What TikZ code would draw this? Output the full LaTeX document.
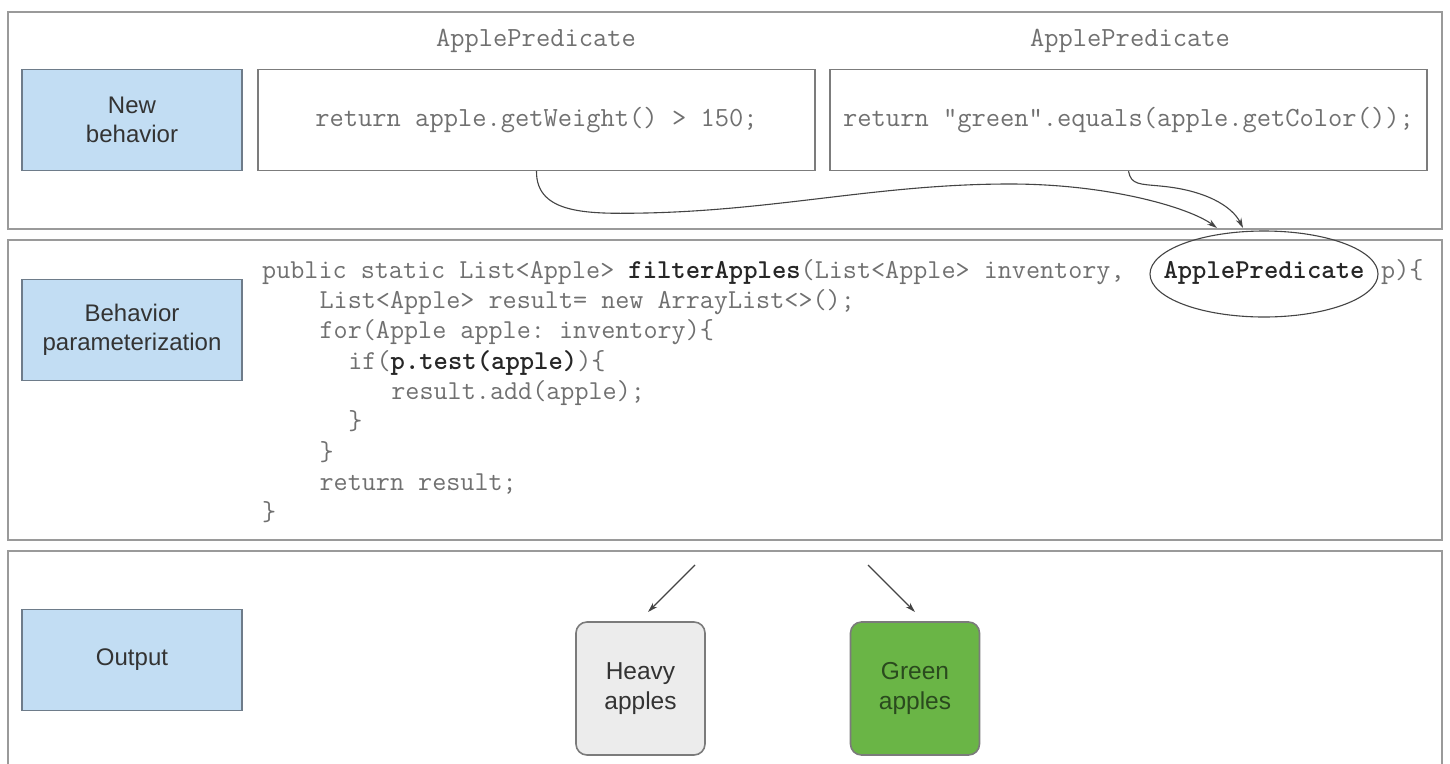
\documentclass[tikz,border=0pt]{standalone}
\usepackage{fontspec}
\setmainfont{Liberation Sans}
\usetikzlibrary{shapes.geometric,arrows.meta}
\definecolor{panelborder}{HTML}{9A9A9A}
\definecolor{bluefill}{HTML}{C2DDF3}
\definecolor{blueborder}{HTML}{6E7C8A}
\definecolor{codegray}{HTML}{707070}
\definecolor{codedark}{HTML}{262626}
\definecolor{labeltext}{HTML}{333333}
\definecolor{heavyfill}{HTML}{ECECEC}
\definecolor{greenfill}{HTML}{6AB546}
\definecolor{greentext}{HTML}{2A4A1E}
\definecolor{linecol}{HTML}{444444}
\begin{document}
\frenchspacing
\begin{tikzpicture}[x=1pt,y=-1pt,
  panel/.style={draw=panelborder,line width=2pt,fill=white},
  bluebox/.style={draw=blueborder,line width=1.6pt,fill=bluefill,minimum width=220pt,minimum height=101pt,
    align=center,font=\fontsize{24}{29}\selectfont,text=labeltext,inner sep=0pt},
  codebox/.style={draw=linecol!70,line width=1.4pt,fill=white,inner sep=0pt},
  codetxt/.style={font=\ttfamily\frenchspacing\fontsize{27.7}{30}\selectfont,text=codegray,inner sep=0pt},
  codeline/.style={font=\ttfamily\frenchspacing\fontsize{27.35}{30}\selectfont,text=codegray,inner sep=0pt,anchor=base west},
  applebox/.style={draw=panelborder!80!black,line width=1.6pt,rounded corners=11pt,minimum width=129pt,minimum height=133pt,
    align=center,font=\fontsize{24.5}{30}\selectfont,inner sep=0pt},
  conn/.style={draw=linecol,line width=1.1pt,-{Stealth[length=10pt,width=6pt]}}]
\useasboundingbox (0,0) rectangle (1450,763);
% panels
\draw[panel] (8,12) rectangle (1442,229);
\draw[panel] (8,240) rectangle (1442,540);
\draw[panel] (8,551) rectangle (1442,775);
% left labels
\node[bluebox] (nb) at (132,120) {New\\behavior};
\node[bluebox] (bp) at (132,330) {Behavior\\parameterization};
\node[bluebox] (out) at (132,660) {Output};
% top code boxes
\node[codebox,minimum width=557pt,minimum height=101pt] (b1) at (536.5,120) {};
\node[codebox,minimum width=597pt,minimum height=101pt] (b2) at (1128.5,120) {};
\node[codetxt] (t1) at (b1) {return apple.getWeight() > 150;};
\node[codetxt] (t2) at (b2) {return "green".equals(apple.getColor());};
\node[codetxt,anchor=base] (ap1) at (536,46) {ApplePredicate};
\node[codetxt,anchor=base] (ap2) at (1130,46) {ApplePredicate};
% code lines
\node[codeline] (l1) at (262,278) {public static List<Apple> {\bfseries\color{codedark}filterApples}(List<Apple> inventory,};
\node[codeline,anchor=base] (l1b) at (1264,278) {\bfseries\color{codedark}ApplePredicate};
\node[codeline] (l1c) at (1381,278) {p)\{};
\node[codeline] (l2) at (319.4,308) {List<Apple> result= new ArrayList<>();};
\node[codeline] (l3) at (319.4,338) {for(Apple apple: inventory)\{};
\node[codeline] (l4) at (348.2,369) {if({\bfseries\color{codedark}p.test(apple)})\{};
\node[codeline] (l5) at (391.2,399) {result.add(apple);};
\node[codeline] (l6) at (348.2,429) {\}};
\node[codeline] (l7) at (319.4,460) {\}};
\node[codeline] (l8) at (319.4,490) {return result;};
\node[codeline] (l9) at (262,520) {\}};
% ellipse
\node[draw=linecol,line width=1.1pt,ellipse,minimum width=228pt,minimum height=86pt,inner sep=0pt] (ell) at (1264,274) {};
\coordinate (e1) at (1217,228);
\coordinate (e2) at (1243,228);
% curved arrows
\draw[conn] (b1.south) .. controls (536,215) and (590,214) .. (646,213)
  .. controls (780,210) and (880,184) .. (1010,184)
  .. controls (1110,184) and (1190,208) .. (e1);
\draw[conn] (b2.south) .. controls (1131,185) and (1140,184) .. (1160,186)
  .. controls (1205,190) and (1232,206) .. (e2);
% output boxes
\node[applebox,fill=heavyfill,text=labeltext] (heavy) at (640.5,688.5) {Heavy\\apples};
\node[applebox,fill=greenfill,text=greentext] (green) at (915,688.5) {Green\\apples};
\coordinate (s1) at (695,565);
\coordinate (s2) at (868,565);
\draw[conn] (s1) -- (648,612);
\draw[conn] (s2) -- (915,612);
\end{tikzpicture}
\end{document}
